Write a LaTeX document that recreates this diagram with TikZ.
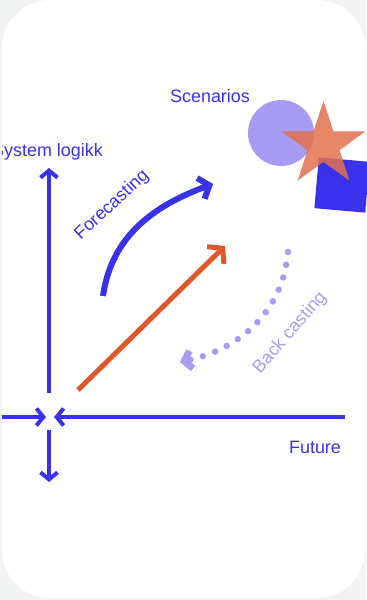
\documentclass[tikz,border=0pt]{standalone}
\usepackage{fontspec}
\setmainfont{Liberation Sans}
\usepackage{tikz}
\usetikzlibrary{arrows.meta,shapes.geometric}

\definecolor{axisblue}{HTML}{3A32EB}
\definecolor{rustorange}{HTML}{E0572C}
\definecolor{lavender}{HTML}{A89CF2}
\definecolor{starorange}{HTML}{E2714F}
\definecolor{pagegrey}{HTML}{F1F2F2}

\begin{document}
\begin{tikzpicture}[x=1bp, y=1bp, line join=miter,
    label/.style = {font=\fontsize{18}{21}\selectfont, inner sep=0pt},
    axis/.style = {draw=axisblue, line width=4bp, -{Straight Barb[length=7bp,width=17bp]}},
    fore/.style = {draw=axisblue, line width=6bp, -{Straight Barb[length=9bp,width=22bp]}},
    trend/.style = {draw=rustorange, line width=5bp, -{Straight Barb[length=10bp,width=24bp]}},
    back/.style = {draw=lavender, line width=6.5bp, line cap=round, dash pattern=on 0bp off 13bp,
                   -{Straight Barb[length=7bp,width=18bp,line width=7bp,line cap=butt]}}]
	\useasboundingbox (0,0) rectangle (366,600);
	\fill[pagegrey] (0,0) rectangle (366,600);
	\fill[white, rounded corners=48bp] (2,2) rectangle (365,600);

	% scenario shapes
	\node [circle, fill=lavender, minimum size=66bp, inner sep=0pt] (circ) at (281,467) {};
	\node [rectangle, fill=axisblue, minimum size=51bp, inner sep=0pt, rotate=-5] (box) at (342,415) {};
	\node [star, star points=5, star point ratio=2.6, fill=starorange, fill opacity=0.85,
	       minimum size=88bp, inner sep=0pt] (star) at (323.5,455) {};

	% axes
	\coordinate (vbot) at (49,207);
	\coordinate (vtop) at (49,432);
	\coordinate (dtop) at (49,170);
	\coordinate (dbot) at (49,118);
	\coordinate (hleft) at (2,183);
	\coordinate (htipl) at (46,183);
	\coordinate (hright) at (345,183);
	\coordinate (htipr) at (54,183);

	\draw[axis] (vbot) --  (vtop);
	\draw[axis] (dtop) --  (dbot);
	\draw[axis] (hleft) --  (htipl);
	\draw[axis] (hright) --  (htipr);

	% arrows
	\coordinate (fstart) at (103,304);
	\coordinate (fend) at (213,416);
	\coordinate (tstart) at (78,210);
	\coordinate (tend) at (225,354);
	\coordinate (bstart) at (288,348);
	\coordinate (bend) at (180,238);

	\draw[fore] (fstart) to[out=82, in=200] (fend);
	\draw[trend] (tstart) --  (tend);
	\draw[back] (bstart) to[out=-95, in=12] (bend);

	% labels
	\begin{scope}
	\clip[rounded corners=48bp] (2,2) rectangle (365,600);
	\node [label, text=axisblue, anchor=east] (ylab) at (103,448) {System logikk};
	\end{scope}
	\node [label, text=axisblue] (xlab) at (315,153) {Future};
	\node [label, text=axisblue] (scen) at (210,504) {Scenarios};
	\node [label, text=axisblue, rotate=43] (flab) at (112,395) {Forecasting};
	\node [label, text=lavender, rotate=49] (blab) at (290,267) {Back casting};

\end{tikzpicture}
\end{document}
